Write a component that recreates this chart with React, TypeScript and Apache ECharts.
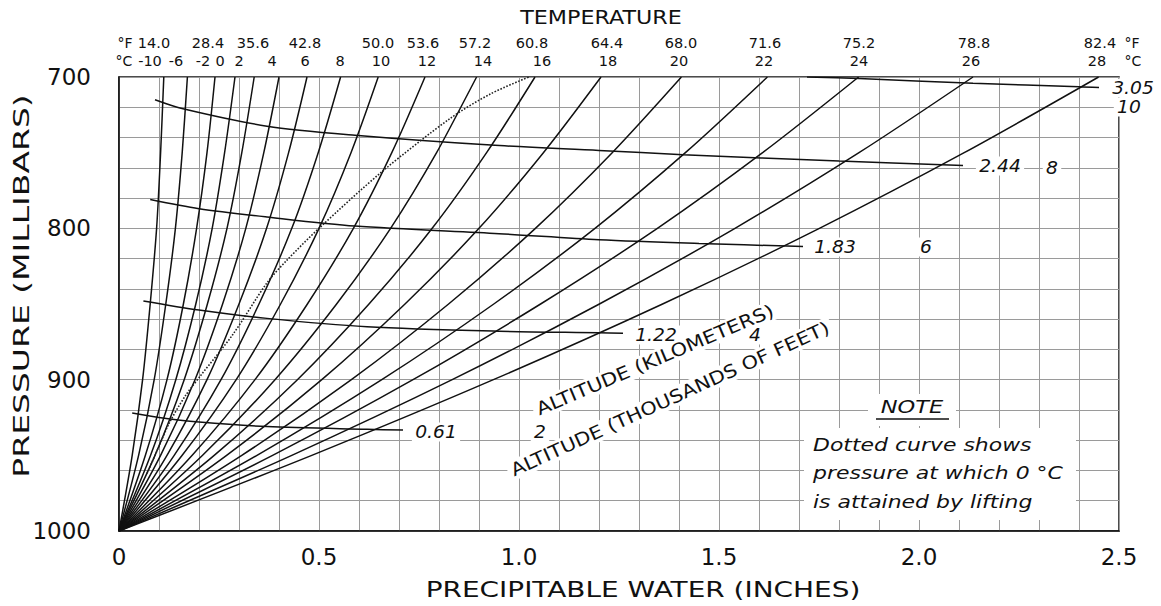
import React, { useEffect, useRef } from "react";
import * as echarts from "echarts";

// ---------------- data ----------------
const pressureLevels = [1000, 950, 900, 850, 800, 750, 700];
const tempC = [-10, -6, -2, 0, 2, 4, 6, 8, 10, 12, 14, 16, 18, 20, 22, 24, 26, 28];
const tempCLabels = ["-10", "-6", "-2", "0", "2", "4", "6", "8", "10", "12", "14", "16", "18", "20", "22", "24", "26", "28"];
const tempFLabels = ["14.0", "", "28.4", "", "35.6", "", "42.8", "", "50.0", "53.6", "57.2", "60.8", "64.4", "68.0", "71.6", "75.2", "78.8", "82.4"];

// precipitable water (inches) at pressureLevels for each 1000-mb temperature
const pwM10 = [0, 0.033, 0.059, 0.078, 0.094, 0.104, 0.112];
const pwM6 = [0, 0.049, 0.088, 0.117, 0.141, 0.158, 0.171];
const pwM2 = [0, 0.066, 0.12, 0.161, 0.194, 0.22, 0.24];
const pw0 = [0, 0.079, 0.142, 0.192, 0.233, 0.264, 0.29];
const pw2 = [0, 0.09, 0.163, 0.221, 0.27, 0.307, 0.338];
const pw4 = [0, 0.104, 0.19, 0.259, 0.317, 0.362, 0.4];
const pw6 = [0, 0.12, 0.22, 0.3, 0.369, 0.424, 0.47];
const pw8 = [0, 0.138, 0.255, 0.35, 0.432, 0.498, 0.554];
const pw10 = [0, 0.158, 0.293, 0.404, 0.5, 0.58, 0.648];
const pw12 = [0, 0.183, 0.34, 0.471, 0.586, 0.682, 0.765];
const pw14 = [0, 0.209, 0.39, 0.544, 0.679, 0.794, 0.894];
const pw16 = [0, 0.238, 0.446, 0.625, 0.783, 0.919, 1.04];
const pw18 = [0, 0.269, 0.507, 0.715, 0.9, 1.061, 1.205];
const pw20 = [0, 0.307, 0.581, 0.824, 1.041, 1.233, 1.406];
const pw22 = [0, 0.345, 0.657, 0.937, 1.19, 1.416, 1.621];
const pw24 = [0, 0.384, 0.735, 1.054, 1.346, 1.609, 1.849];
const pw26 = [0, 0.432, 0.833, 1.201, 1.54, 1.85, 2.135];
const pw28 = [0, 0.482, 0.936, 1.359, 1.751, 2.113, 2.449];
const pwCurves = [pwM10, pwM6, pwM2, pw0, pw2, pw4, pw6, pw8, pw10, pw12, pw14, pw16, pw18, pw20, pw22, pw24, pw26, pw28];

// altitude curves (km / thousands of feet)
const altKm = ["0.61", "1.22", "1.83", "2.44", "3.05"];
const altKft = ["2", "4", "6", "8", "10"];
const alt061W = [0.033, 0.1, 0.2, 0.37, 0.62, 0.71];
const alt061P = [922, 925, 928, 931, 932.8, 933.3];
const alt122W = [0.061, 0.2, 0.37, 0.62, 0.95, 1.2, 1.26];
const alt122P = [848, 854, 859.5, 865, 868, 869, 869.3];
const alt183W = [0.078, 0.2, 0.37, 0.59, 0.95, 1.2, 1.45, 1.71];
const alt183P = [781, 787, 792.5, 798.5, 803.5, 807.5, 810, 812];
const alt244W = [0.09, 0.16, 0.37, 0.59, 0.93, 1.2, 1.41, 1.8, 2.11];
const alt244P = [715, 721, 732.5, 738.5, 745, 748.5, 751.3, 755.5, 758.4];
const alt305W = [1.72, 1.85, 2.135, 2.4, 2.45];
const alt305P = [700, 701, 704.2, 706.4, 707];
const altW = [alt061W, alt122W, alt183W, alt244W, alt305W];
const altP = [alt061P, alt122P, alt183P, alt244P, alt305P];

// dotted curve: pressure at which 0 °C is attained by lifting
const freezeW = [0.07, 0.1, 0.125, 0.165, 0.205, 0.285, 0.37, 0.42, 0.5, 0.66, 0.83, 0.93, 1.025];
const freezeP = [962, 944, 929, 911, 897, 870, 836, 821, 800, 762, 727, 711, 700];

const xTickValues = [0, 0.5, 1, 1.5, 2, 2.5];
const xTickLabels = ["0", "0.5", "1.0", "1.5", "2.0", "2.5"];
const yTickValues = [700, 800, 900, 1000];
const yTickLabels = ["700", "800", "900", "1000"];

// ---------------- layout ----------------
const FONT = '"DejaVu Sans", sans-serif';
const cLabelX = [150, 176, 203, 220, 239, 272, 305, 340, 381, 427, 483, 542, 608, 679, 764, 859, 971, 1097];
const fLabelX = [154, 0, 208, 0, 253, 0, 305, 0, 378, 423, 475, 532, 607, 681, 765, 859, 974, 1100];
const kmLabelPos = [[436, 432], [656, 335], [835, 247], [1000, 166], [1133, 88]];
const kftLabelPos = [[540, 432], [755, 335], [926, 247], [1052, 168], [1129, 107]];

function txt(text: string, x: number, y: number, o: any = {}) {
  return {
    type: "text",
    x,
    y,
    rotation: o.rotation || 0,
    scaleX: o.scaleX || 1,
    z: o.z || 10,
    silent: true,
    style: {
      text,
      font: `${o.italic ? "italic " : ""}${o.size || 15}px ${FONT}`,
      fill: "#111",
      align: o.align || "center",
      textAlign: o.align || "center",
      verticalAlign: "middle",
      textVerticalAlign: "middle",
      backgroundColor: o.bg ? "#fff" : undefined,
      padding: o.bg ? [1, 3] : undefined,
    },
  };
}

function buildOption() {
  const series: any[] = [];
  const curveStyle = { color: "#111", width: 1.5 };
  pwCurves.forEach((w, i) => {
    series.push({
      type: "line",
      name: tempC[i] + " °C",
      data: w.map((v, j) => [v, pressureLevels[j]]),
      showSymbol: false,
      smooth: 0.3,
      silent: true,
      z: 3,
      lineStyle: curveStyle,
    });
  });
  altW.forEach((w, i) => {
    series.push({
      type: "line",
      name: altKm[i] + " km",
      data: w.map((v, j) => [v, altP[i][j]]),
      showSymbol: false,
      smooth: 0.3,
      silent: true,
      z: 3,
      lineStyle: curveStyle,
    });
  });
  series.push({
    type: "line",
    name: "0 °C level",
    data: freezeW.map((v, j) => [v, freezeP[j]]),
    showSymbol: false,
    smooth: 0.3,
    silent: true,
    z: 3,
    lineStyle: { color: "#222", width: 1.6, type: "dotted" },
  });

  const g: any[] = [];
  // titles
  g.push(txt("TEMPERATURE", 601, 18, { size: 19, scaleX: 1.17 }));
  g.push(txt("PRESSURE (MILLIBARS)", 22, 286, { size: 22, scaleX: 1.5, rotation: Math.PI / 2 }));
  g.push(txt("PRECIPITABLE WATER (INCHES)", 643, 590, { size: 22, scaleX: 1.27 }));
  // temperature labels
  g.push(txt("°F", 125, 43, { size: 14 }));
  g.push(txt("°C", 124, 61, { size: 14 }));
  tempCLabels.forEach((s, i) => g.push(txt(s, cLabelX[i], 61, { size: 14.5 })));
  tempFLabels.forEach((s, i) => {
    if (s) g.push(txt(s, fLabelX[i], 43, { size: 14.5 }));
  });
  g.push(txt("°F", 1132, 43, { size: 14 }));
  g.push(txt("°C", 1133, 61, { size: 14 }));
  // altitude labels
  altKm.forEach((s, i) => g.push(txt(s, kmLabelPos[i][0], kmLabelPos[i][1], { size: 17, italic: true, scaleX: 1.1, bg: true })));
  altKft.forEach((s, i) => g.push(txt(s, kftLabelPos[i][0], kftLabelPos[i][1], { size: 17, italic: true, scaleX: 1.1, bg: true })));
  g.push(txt("ALTITUDE (KILOMETERS)", 655, 360, { size: 18, scaleX: 1.17, rotation: (23 * Math.PI) / 180, bg: true }));
  g.push(txt("ALTITUDE (THOUSANDS OF FEET)", 670, 399, { size: 18, scaleX: 1.16, rotation: (24.5 * Math.PI) / 180, bg: true }));
  // note
  g.push({ type: "rect", z: 9, silent: true, shape: { x: 804, y: 428, width: 272, height: 92 }, style: { fill: "#fff" } });
  g.push({ type: "rect", z: 9, silent: true, shape: { x: 868, y: 394, width: 88, height: 32 }, style: { fill: "#fff" } });
  g.push(txt("NOTE", 912, 407, { size: 18, italic: true, scaleX: 1.25 }));
  g.push({ type: "line", z: 10, silent: true, shape: { x1: 876, y1: 419, x2: 949, y2: 419 }, style: { stroke: "#111", lineWidth: 1.5 } });
  g.push(txt("Dotted curve shows", 813, 445, { size: 18, italic: true, scaleX: 1.22, align: "left" }));
  g.push(txt("pressure at which 0 °C", 813, 473, { size: 18, italic: true, scaleX: 1.22, align: "left" }));
  g.push(txt("is attained by lifting", 813, 502, { size: 18, italic: true, scaleX: 1.22, align: "left" }));

  const gridLine = { show: true, lineStyle: { color: "#9a9a9a", width: 1 } };

  return {
    animation: false,
    backgroundColor: "#fff",
    grid: { left: 119, right: 42, top: 77, bottom: 75, show: true, borderColor: "#111", borderWidth: 1.5, backgroundColor: "transparent" },
    xAxis: {
      type: "value",
      min: 0,
      max: 2.5,
      interval: 0.1,
      axisLine: { show: true, lineStyle: { color: "#111", width: 1.5 } },
      axisTick: { show: false },
      splitLine: gridLine,
      axisLabel: {
        margin: 14,
        fontSize: 23,
        fontFamily: FONT,
        color: "#111",
        formatter: (v: number) => {
          const i = xTickValues.findIndex((t) => Math.abs(t - v) < 1e-6);
          return i >= 0 ? xTickLabels[i] : "";
        },
      },
    },
    yAxis: {
      type: "value",
      min: 700,
      max: 1000,
      interval: 20,
      inverse: true,
      axisLine: { show: true, lineStyle: { color: "#111", width: 1.5 } },
      axisTick: { show: false },
      splitLine: gridLine,
      axisLabel: {
        margin: 28,
        fontSize: 23,
        fontFamily: FONT,
        color: "#111",
        formatter: (v: number) => {
          const i = yTickValues.findIndex((t) => Math.abs(t - v) < 1e-6);
          return i >= 0 ? yTickLabels[i] : "";
        },
      },
    },
    series,
    graphic: { elements: g },
  };
}

export default function App() {
  const ref = useRef<HTMLDivElement>(null);
  useEffect(() => {
    if (!ref.current) return;
    const chart = echarts.init(ref.current, null, { renderer: "svg" });
    chart.setOption(buildOption() as any);
    return () => chart.dispose();
  }, []);
  return (
    <div
      ref={ref}
      style={{ position: "fixed", left: 0, top: 0, width: 1161, height: 606, background: "#fff" }}
    />
  );
}
